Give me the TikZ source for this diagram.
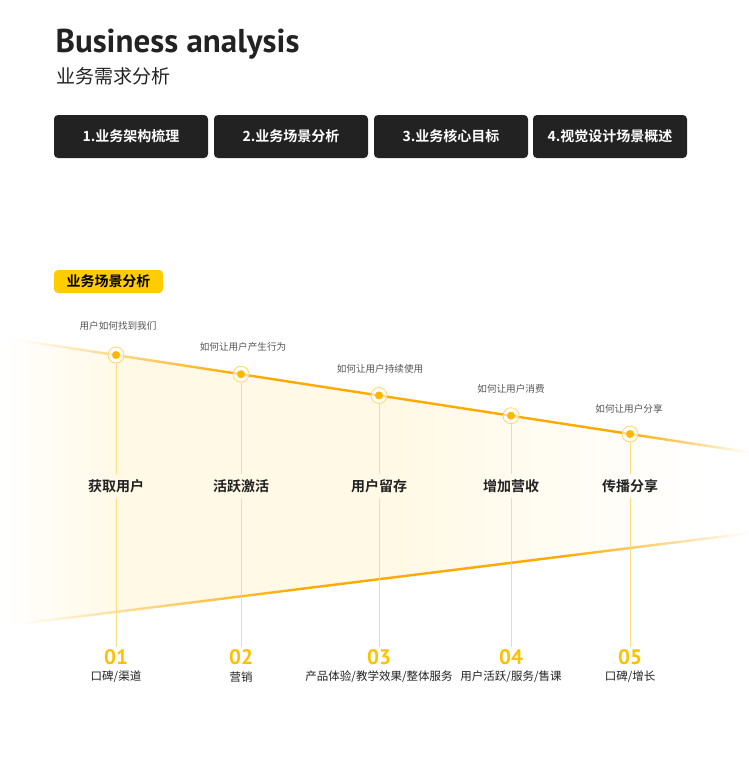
\documentclass[tikz,border=0pt]{standalone}
\usepackage{fontspec}
\setmainfont{Noto Sans CJK SC}[BoldFont={* Bold}]
\newfontfamily\dinfont{PT Sans}
\usetikzlibrary{fadings}

\definecolor{boxblack}{HTML}{222222}
\definecolor{taggold}{HTML}{FFCC00}
\definecolor{linegold}{HTML}{FFAA00}
\definecolor{dotgold}{HTML}{FFB700}
\definecolor{ringgold}{HTML}{FFD766}
\definecolor{stemgold}{HTML}{FFDB80}
\definecolor{numgold}{HTML}{FFC000}
\definecolor{cream}{HTML}{FFF9E6}
\definecolor{asktext}{HTML}{555555}
\definecolor{darktext}{HTML}{222222}

\pgfdeclarehorizontalshading{funnelshade}{100bp}{color(0bp)=(white); color(25bp)=(white);
  color(33bp)=(cream); color(52bp)=(cream); color(72bp)=(white); color(100bp)=(white)}
\tikzfading[name=fade in, left color=transparent!100, right color=transparent!0]
\tikzfading[name=fade out, left color=transparent!0, right color=transparent!100]
\tikzfading[name=fade sides, left color=transparent!100, middle color=transparent!0, right color=transparent!100]

\begin{document}
\begin{tikzpicture}[x=1pt, y=-1pt,
    tab/.style={fill=boxblack, rounded corners=4pt, minimum width=154pt, minimum height=43pt,
      inner sep=0pt, text=white, font=\bfseries\fontsize{14}{14}\selectfont},
    tag/.style={fill=taggold, rounded corners=4pt, minimum width=109pt, minimum height=23pt,
      inner sep=0pt, text=black, font=\bfseries\fontsize{14}{14}\selectfont},
    ring/.style={circle, draw=ringgold, line width=0.8pt, fill=white, fill opacity=0.6,
      minimum size=16pt, inner sep=0pt},
    dot/.style={circle, fill=dotgold, minimum size=8pt, inner sep=0pt},
    ask/.style={text=asktext, font=\fontsize{9.6}{9.6}\selectfont},
    stage/.style={text=darktext, font=\bfseries\fontsize{14}{14}\selectfont, inner sep=5pt},
    num/.style={text=numgold, font=\dinfont\bfseries\fontsize{21}{21}\selectfont, inner sep=2pt},
    sub/.style={text=darktext, font=\fontsize{11.5}{11.5}\selectfont},
    stem/.style={draw=stemgold, line width=0.8pt},
    edge/.style={draw=linegold, line width=2.4pt}]

  \useasboundingbox (0,0) rectangle (749,761);

  % header
  \node [anchor=base west, text=darktext, font=\dinfont\bfseries\fontsize{33}{33}\selectfont] (title) at (52,52) {Business analysis};
  \node [anchor=base west, text=darktext, font=\fontsize{19}{19}\selectfont] (subtitle) at (53,83) {业务需求分析};

  \node [tab] (tab1) at (131,136.5) {1.业务架构梳理};
  \node [tab] (tab2) at (291,136.5) {2.业务场景分析};
  \node [tab] (tab3) at (451,136.5) {3.业务核心目标};
  \node [tab] (tab4) at (610,136.5) {4.视觉设计场景概述};

  \node [tag] (scene) at (108.5,281.5) {业务场景分析};

  % funnel area
  \shade [shading=funnelshade]
    (0,337.2) -- (749,452.3) -- (749,533.2) -- (0,626.4) -- cycle;
  \fill [cream!60!linegold!35, path fading=fade sides] (60,346.4) -- (680,441.7) -- (680,452.7) -- (60,357.4) -- cycle;
  \fill [cream!60!linegold!35, path fading=fade sides] (60,607.9) -- (720,525.8) -- (720,536.8) -- (60,618.9) -- cycle;

  % upper edge
  \coordinate (u0) at (20,340.3);
  \coordinate (u1) at (240,374.1);
  \coordinate (u2) at (630,434.0);
  \coordinate (u3) at (749,452.3);
  \draw [edge, path fading=fade in] (u0) -- (u1);
  \draw [edge] (u1) -- (u2);
  \draw [edge, path fading=fade out] (u2) -- (u3);

  % lower edge
  \coordinate (l0) at (20,623.9);
  \coordinate (l1) at (300,589.0);
  \coordinate (l2) at (560,556.7);
  \coordinate (l3) at (749,533.2);
  \draw [edge, path fading=fade in] (l0) -- (l1);
  \draw [edge] (l1) -- (l2);
  \draw [edge, path fading=fade out] (l2) -- (l3);

  % stages
  \node [ask] (q1) at (118,326) {用户如何找到我们};
  \node [ask] (q2) at (243,347) {如何让用户产生行为};
  \node [ask] (q3) at (380,369) {如何让用户持续使用};
  \node [ask] (q4) at (511,389) {如何让用户消费};
  \node [ask] (q5) at (629,409) {如何让用户分享};

  \node [ring] (p1) at (116,355.0) {};
  \node [ring] (p2) at (241,374.2) {};
  \node [ring] (p3) at (379,395.4) {};
  \node [ring] (p4) at (511,415.7) {};
  \node [ring] (p5) at (630,434.0) {};
  \foreach \i in {1,...,5}
    \node [dot] at (p\i) {};

  \node [stage] (s1) at (116,486) {获取用户};
  \node [stage] (s2) at (241,486) {活跃激活};
  \node [stage] (s3) at (379,486) {用户留存};
  \node [stage] (s4) at (511,486) {增加营收};
  \node [stage] (s5) at (630,486) {传播分享};

  \node [num] (n1) at (116,657) {01};
  \node [num] (n2) at (241,657) {02};
  \node [num] (n3) at (379,657) {03};
  \node [num] (n4) at (511,657) {04};
  \node [num] (n5) at (630,657) {05};

  \node [sub] (d1) at (116,677) {口碑/渠道};
  \node [sub] (d2) at (241,677) {营销};
  \node [sub] (d3) at (379,677) {产品体验/教学效果/整体服务};
  \node [sub] (d4) at (511,677) {用户活跃/服务/售课};
  \node [sub] (d5) at (630,677) {口碑/增长};

  % stems
  \foreach \i in {1,...,5} {
    \draw [stem] (p\i) -- (s\i);
    \draw [stem] (s\i) -- (n\i);
  }
\end{tikzpicture}
\end{document}
